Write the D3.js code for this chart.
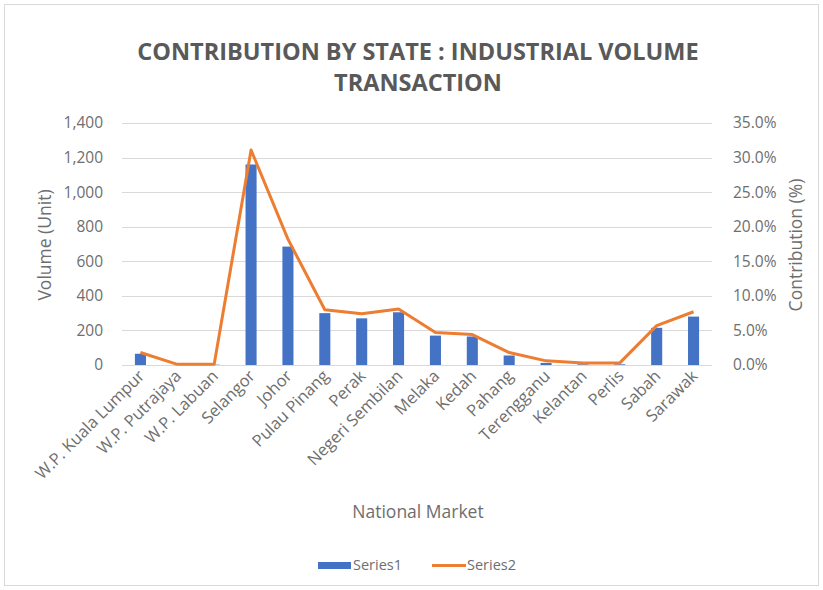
<!DOCTYPE html>
<html>
<head>
<meta charset="utf-8">
<script src="https://cdn.jsdelivr.net/npm/d3@7"></script>
<style>
body { margin:0; background:#fff; }
text { font-family: "Open Sans", "Noto Sans", sans-serif; }
</style>
</head>
<body>
<div id="chart"></div>
<script>
var states = ["W.P. Kuala Lumpur","W.P. Putrajaya","W.P. Labuan","Selangor","Johor","Pulau Pinang","Perak",
	"Negeri Sembilan","Melaka","Kedah","Pahang","Terengganu","Kelantan","Perlis","Sabah","Sarawak"];
var volume = [65,0,2,1160,685,300,270,305,170,165,55,12,4,4,215,280];
var contribution = [1.8,0.1,0.1,31.1,18.2,8.0,7.4,8.1,4.7,4.4,1.8,0.6,0.3,0.3,5.7,7.7];
var leftTicks = [0,200,400,600,800,1000,1200,1400];
var rightTicks = [0,5,10,15,20,25,30,35];

var W = 823, H = 590;
var pLeft = 122, pRight = 712, pTop = 123, pBottom = 365;
var grey = "#595959", lightGrey = "#6e6e6e";

var svg = d3.select("#chart").append("svg").attr("width",W).attr("height",H);

svg.append("rect").attr("x",4.5).attr("y",4.5).attr("width",W-9).attr("height",H-9)
	.attr("fill","#fff").attr("stroke","#d9d9d9");

var x = d3.scaleBand().domain(states).range([pLeft,pRight]).paddingInner(0.7).paddingOuter(0.35);
var yL = d3.scaleLinear().domain([0,1400]).range([pBottom,pTop]);
var yR = d3.scaleLinear().domain([0,35]).range([pBottom,pTop]);

// grid
svg.append("g").selectAll("line").data(leftTicks).enter().append("line")
	.attr("x1",pLeft).attr("x2",pRight)
	.attr("y1",function(d){ return Math.round(yL(d))+0.5; }).attr("y2",function(d){ return Math.round(yL(d))+0.5; })
	.attr("stroke","#d9d9d9").attr("stroke-width",1);

// axes
var axL = svg.append("g").attr("transform","translate("+(pLeft-16)+",0)")
	.call(d3.axisLeft(yL).tickValues(leftTicks).tickSize(0).tickFormat(d3.format(",")));
axL.select(".domain").remove();
axL.selectAll("text").attr("fill",lightGrey).style("font-size","15.5px");

var axR = svg.append("g").attr("transform","translate("+(pRight+18)+",0)")
	.call(d3.axisRight(yR).tickValues(rightTicks).tickSize(0).tickFormat(function(d){ return d.toFixed(1)+"%"; }));
axR.select(".domain").remove();
axR.selectAll("text").attr("fill",lightGrey).style("font-size","15.5px");

// bars
svg.append("g").selectAll("rect").data(states).enter().append("rect")
	.attr("x",function(d){ return x(d); })
	.attr("width",x.bandwidth())
	.attr("y",function(d,i){ return yL(volume[i]); })
	.attr("height",function(d,i){ return pBottom - yL(volume[i]); })
	.attr("fill","#4472C4");

// line
var line = d3.line()
	.x(function(d,i){ return x(states[i]) + x.bandwidth()/2; })
	.y(function(d){ return yR(d); });
svg.append("path").datum(contribution)
	.attr("d",line).attr("fill","none")
	.attr("stroke","#ED7D31").attr("stroke-width",3).attr("stroke-linejoin","round");

// x labels
svg.append("g").selectAll("text").data(states).enter().append("text")
	.attr("transform",function(d){ return "translate("+(x(d)+x.bandwidth()/2+5)+","+(pBottom+12)+") rotate(-45)"; })
	.attr("text-anchor","end")
	.attr("fill",lightGrey).style("font-size","16.5px")
	.text(function(d){ return d; });

// titles
svg.append("text").attr("x",418).attr("y",60).attr("text-anchor","middle")
	.attr("fill",grey).style("font-size","23.5px").style("font-weight","bold")
	.text("CONTRIBUTION BY STATE : INDUSTRIAL VOLUME");
svg.append("text").attr("x",418).attr("y",91).attr("text-anchor","middle")
	.attr("fill",grey).style("font-size","23.5px").style("font-weight","bold")
	.text("TRANSACTION");

svg.append("text").attr("transform","translate(51,245) rotate(-90)").attr("text-anchor","middle")
	.attr("fill",lightGrey).style("font-size","17.5px").text("Volume (Unit)");
svg.append("text").attr("transform","translate(802,245) rotate(-90)").attr("text-anchor","middle")
	.attr("fill",lightGrey).style("font-size","17.5px").text("Contribution (%)");
svg.append("text").attr("x",418).attr("y",518).attr("text-anchor","middle")
	.attr("fill",lightGrey).style("font-size","17.5px").text("National Market");

// legend
var lg = svg.append("g");
lg.append("rect").attr("x",318).attr("y",562).attr("width",33).attr("height",7).attr("fill","#4472C4");
lg.append("text").attr("x",353).attr("y",570).attr("fill",lightGrey).style("font-size","14.5px").text("Series1");
lg.append("line").attr("x1",432).attr("x2",466).attr("y1",565.5).attr("y2",565.5)
	.attr("stroke","#ED7D31").attr("stroke-width",3);
lg.append("text").attr("x",467).attr("y",570).attr("fill",lightGrey).style("font-size","14.5px").text("Series2");
</script>
</body>
</html>
